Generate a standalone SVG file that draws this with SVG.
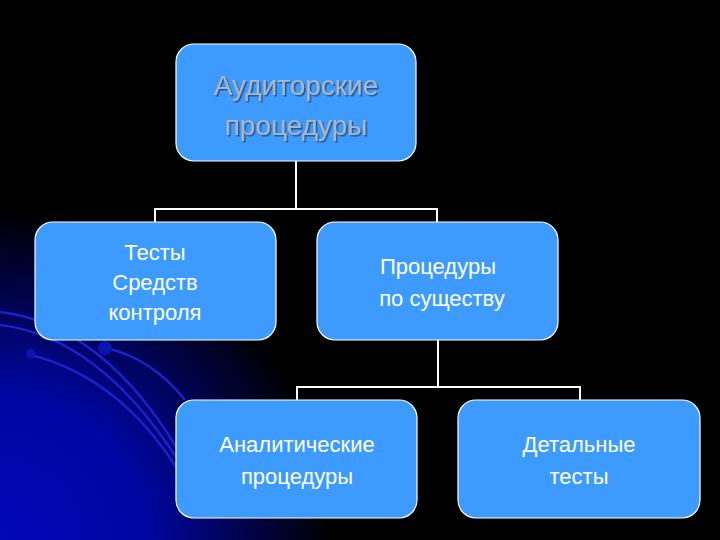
<svg xmlns="http://www.w3.org/2000/svg" width="720" height="540" viewBox="0 0 720 540">
<defs>
<radialGradient id="bg" cx="0" cy="540" r="330" gradientUnits="userSpaceOnUse">
<stop offset="0" stop-color="#0008b8"/><stop offset="0.45" stop-color="#0006a0"/><stop offset="1" stop-color="#000"/>
</radialGradient>
<filter id="sh"><feDropShadow dx="1.5" dy="1.5" stdDeviation="0.6" flood-color="#1a4f8a" flood-opacity="0.9"/></filter>
</defs>
<style>
.box{fill:#3d9bff;stroke:#fff;stroke-width:1.2}
.t{font-family:"Liberation Sans",Arial,sans-serif;font-size:22px;fill:#fff;text-anchor:middle}
.tt{font-family:"Liberation Sans",Arial,sans-serif;font-size:28px;fill:#a9b6c4;text-anchor:middle;filter:url(#sh)}
.c{stroke:#fff;stroke-width:2;fill:none}
.deco{stroke:#1a22c8;stroke-width:2.5;fill:none}
</style>
<rect width="720" height="540" fill="#000"/>
<rect width="720" height="540" fill="url(#bg)"/>
<g id="decor">
<path class="deco" d="M0 312 C70 320 130 370 178 450"/>
<path class="deco" d="M0 325 C60 332 120 370 178 460"/>
<path class="deco" d="M31 355 C90 370 140 410 178 470"/>
<path class="deco" d="M105 348 C140 355 165 375 185 400"/>
<circle cx="31" cy="354" r="5" fill="#0a14b0"/>
<circle cx="105" cy="348" r="7" fill="#0a14b0"/>
</g>
<g id="connectors">
<path class="c" d="M296 161V209M155 222V209H437V222"/>
<path class="c" d="M438 340V387M297 400V387H580V400"/>
</g>
<g id="n1"><rect class="box" x="176" y="44" width="240" height="117" rx="18"/>
<text class="tt" x="296" y="95">Аудиторские</text><text class="tt" x="296" y="135">процедуры</text></g>
<g id="n2"><rect class="box" x="35" y="222" width="241" height="118" rx="18"/>
<text class="t" x="155" y="260">Тесты</text><text class="t" x="155" y="290">Средств</text><text class="t" x="155" y="320">контроля</text></g>
<g id="n3"><rect class="box" x="317" y="222" width="241" height="118" rx="18"/>
<text class="t" x="438" y="274">Процедуры</text><text class="t" x="442" y="306">по существу</text></g>
<g id="n4"><rect class="box" x="176" y="400" width="241" height="118" rx="18"/>
<text class="t" x="297" y="452">Аналитические</text><text class="t" x="297" y="484">процедуры</text></g>
<g id="n5"><rect class="box" x="458" y="400" width="242" height="118" rx="18"/>
<text class="t" x="579" y="452">Детальные</text><text class="t" x="579" y="484">тесты</text></g>
</svg>
